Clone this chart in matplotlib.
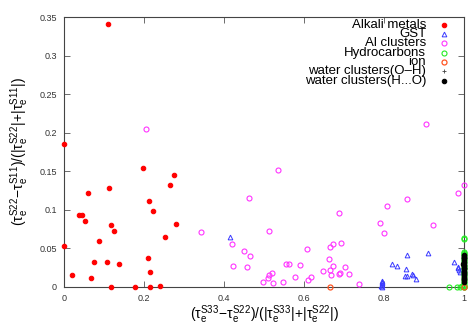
import matplotlib
matplotlib.use("Agg")
import matplotlib.pyplot as plt

plt.rcParams['font.family'] = ['Liberation Sans', 'DejaVu Sans']
plt.rcParams['mathtext.fontset'] = 'custom'
plt.rcParams['mathtext.rm'] = 'Liberation Sans'
plt.rcParams['mathtext.it'] = 'Liberation Sans'

# ---- data ----
alkali_x = [0.0, 0.0, 0.02, 0.0675, 0.076, 0.088, 0.0525, 0.038, 0.044, 0.059, 0.112,
            0.117, 0.125, 0.108, 0.137, 0.117, 0.1775, 0.214, 0.241, 0.198, 0.213,
            0.223, 0.265, 0.275, 0.279, 0.2525, 0.209, 0.215, 0.111]
alkali_y = [0.186, 0.053, 0.015, 0.0117, 0.032, 0.059, 0.0855, 0.093, 0.093, 0.122, 0.128,
            0.081, 0.073, 0.0324, 0.030, 0.0, 0.0, 0.0, 0.001, 0.154, 0.111,
            0.099, 0.132, 0.145, 0.082, 0.065, 0.0376, 0.020, 0.341]

gst_x = [0.415, 0.819, 0.833, 0.858, 0.855, 0.852, 0.858, 0.869, 0.873, 0.879, 0.91,
         0.976, 0.985, 0.988, 0.794, 0.795, 0.794, 0.793, 0.796, 0.795, 0.986, 0.99]
gst_y = [0.065, 0.0298, 0.027, 0.042, 0.023, 0.014, 0.014, 0.0165, 0.015, 0.011, 0.044,
         0.032, 0.026, 0.022, 0.008, 0.005, 0.003, 0.001, 0.0, 0.006, 0.024, 0.02]

al_x = [0.204, 0.906, 0.343, 0.421, 0.423, 0.535, 0.4625, 0.5125, 0.45, 0.465, 0.458,
        0.556, 0.563, 0.591, 0.5125, 0.521, 0.511, 0.497, 0.523, 0.5475, 0.578, 0.6075,
        0.611, 0.6175, 0.6467, 0.663, 0.664, 0.672, 0.692, 0.687, 0.665, 0.673, 0.668,
        0.687, 0.69, 0.7025, 0.7125, 0.7375, 0.789, 0.801, 0.807, 0.8575, 0.922, 0.986, 0.999]
al_y = [0.205, 0.211, 0.071, 0.0557, 0.027, 0.152, 0.115, 0.073, 0.0467, 0.0406, 0.026,
        0.0294, 0.0294, 0.0285, 0.0156, 0.018, 0.012, 0.0069, 0.0048, 0.0069, 0.013, 0.0489,
        0.0087, 0.0126, 0.0203, 0.036, 0.052, 0.0557, 0.0574, 0.0963, 0.022, 0.027, 0.0156,
        0.0173, 0.018, 0.026, 0.0165, 0.0035, 0.083, 0.070, 0.105, 0.1145, 0.080, 0.1215, 0.132]

hc_x = [1.0, 1.0, 1.0, 1.0, 1.0, 1.0, 1.0, 1.0, 1.0, 1.0, 1.0, 1.0, 1.0, 1.0, 1.0,
        1.0, 1.0, 1.0, 1.0, 1.0, 1.0, 1.0, 0.963, 0.982, 0.99, 0.995]
hc_y = [0.062, 0.064, 0.044, 0.041, 0.038, 0.035, 0.032, 0.029, 0.026, 0.023, 0.020,
        0.017, 0.014, 0.011, 0.008, 0.005, 0.003, 0.001, 0.0, 0.046, 0.043, 0.0,
        0.0, 0.0, 0.0, 0.001]

ion_x = [0.666, 1.0]
ion_y = [0.0, 0.0]

woh_x = [1.0, 1.0, 1.0, 1.0, 1.0]
woh_y = [0.012, 0.018, 0.024, 0.030, 0.036]

who_x = [1.0, 1.0, 1.0, 1.0, 1.0, 1.0, 1.0, 1.0, 1.0, 1.0, 1.0, 1.0, 1.0, 1.0, 1.0,
         1.0, 1.0, 1.0, 1.0, 1.0, 0.999, 0.999, 0.998, 0.999]
who_y = [0.007, 0.009, 0.011, 0.013, 0.015, 0.017, 0.019, 0.021, 0.023, 0.025, 0.027,
         0.029, 0.031, 0.033, 0.035, 0.037, 0.039, 0.040, 0.041, 0.038, 0.012, 0.024,
         0.030, 0.018]

xticks = [0, 0.2, 0.4, 0.6, 0.8, 1]
xticklabels = ["0", "0.2", "0.4", "0.6", "0.8", "1"]
yticks = [0, 0.05, 0.1, 0.15, 0.2, 0.25, 0.3, 0.35]
yticklabels = ["0", "0.05", "0.1", "0.15", "0.2", "0.25", "0.3", "0.35"]

labels = ["Alkali metals", "GST", "Al clusters", "Hydrocarbons", "ion",
          "water clusters(O\u2013H)", "water clusters(H...O)"]

# ---- figure ----
fig = plt.figure(figsize=(4.68, 3.29), dpi=100)
ax = fig.add_axes([64/468, 1-287/329, 400/468, 270/329])

styles = [
    dict(marker='o', ls='none', ms=3.2, mfc='#ff0000', mec='#ff0000', mew=0.8),
    dict(marker='^', ls='none', ms=3.4, mfc='none', mec='#3a3aff', mew=0.7),
    dict(marker='o', ls='none', ms=3.6, mfc='none', mec='#ff33ff', mew=0.8),
    dict(marker='o', ls='none', ms=3.6, mfc='none', mec='#22ee22', mew=0.8),
    dict(marker='o', ls='none', ms=3.6, mfc='none', mec='#ff5522', mew=0.9),
    dict(marker='+', ls='none', ms=3.0, mfc='none', mec='#444444', mew=0.6),
    dict(marker='o', ls='none', ms=3.2, mfc='black', mec='black', mew=0.8),
]
series = [(alkali_x, alkali_y), (gst_x, gst_y), (al_x, al_y), (hc_x, hc_y),
          (ion_x, ion_y), (woh_x, woh_y), (who_x, who_y)]

for (xs, ys), st in zip(series, styles):
    ax.plot(xs, ys, clip_on=False, zorder=3, **st)

ax.set_xlim(0, 1)
ax.set_ylim(0, 0.35)
ax.set_xticks(xticks)
ax.set_xticklabels(xticklabels)
ax.set_yticks(yticks)
ax.set_yticklabels(yticklabels)
ax.tick_params(direction='in', top=True, right=True, length=4, width=0.6,
               labelsize=6.5, labelcolor='#333333', pad=5, color='#555555')
for s in ax.spines.values():
    s.set_linewidth(0.8)
    s.set_color('#444444')

ax.set_xlabel(r'$\mathregular{(\tau_e^{S33}\!-\!\tau_e^{S22})/(|\tau_e^{S33}|\!+\!|\tau_e^{S22}|)}$',
              fontsize=10, labelpad=0)
ax.set_ylabel(r'$\mathregular{(\tau_e^{S22}\!-\!\tau_e^{S11})/(|\tau_e^{S22}|\!+\!|\tau_e^{S11}|)}$',
              fontsize=10, labelpad=6)

# legend drawn gnuplot-style (text right-aligned, marker on the right)
row_px = [25, 34, 43, 53, 62, 71, 81]
for lab, st, ypx in zip(labels, styles, row_px):
    fig.text(426/468, 1 - ypx/329, lab, ha='right', va='center', fontsize=9.5, color='black')
    fig.add_artist(plt.Line2D([444/468], [1 - ypx/329], transform=fig.transFigure, **st))

fig.savefig("out.png", dpi=100)
